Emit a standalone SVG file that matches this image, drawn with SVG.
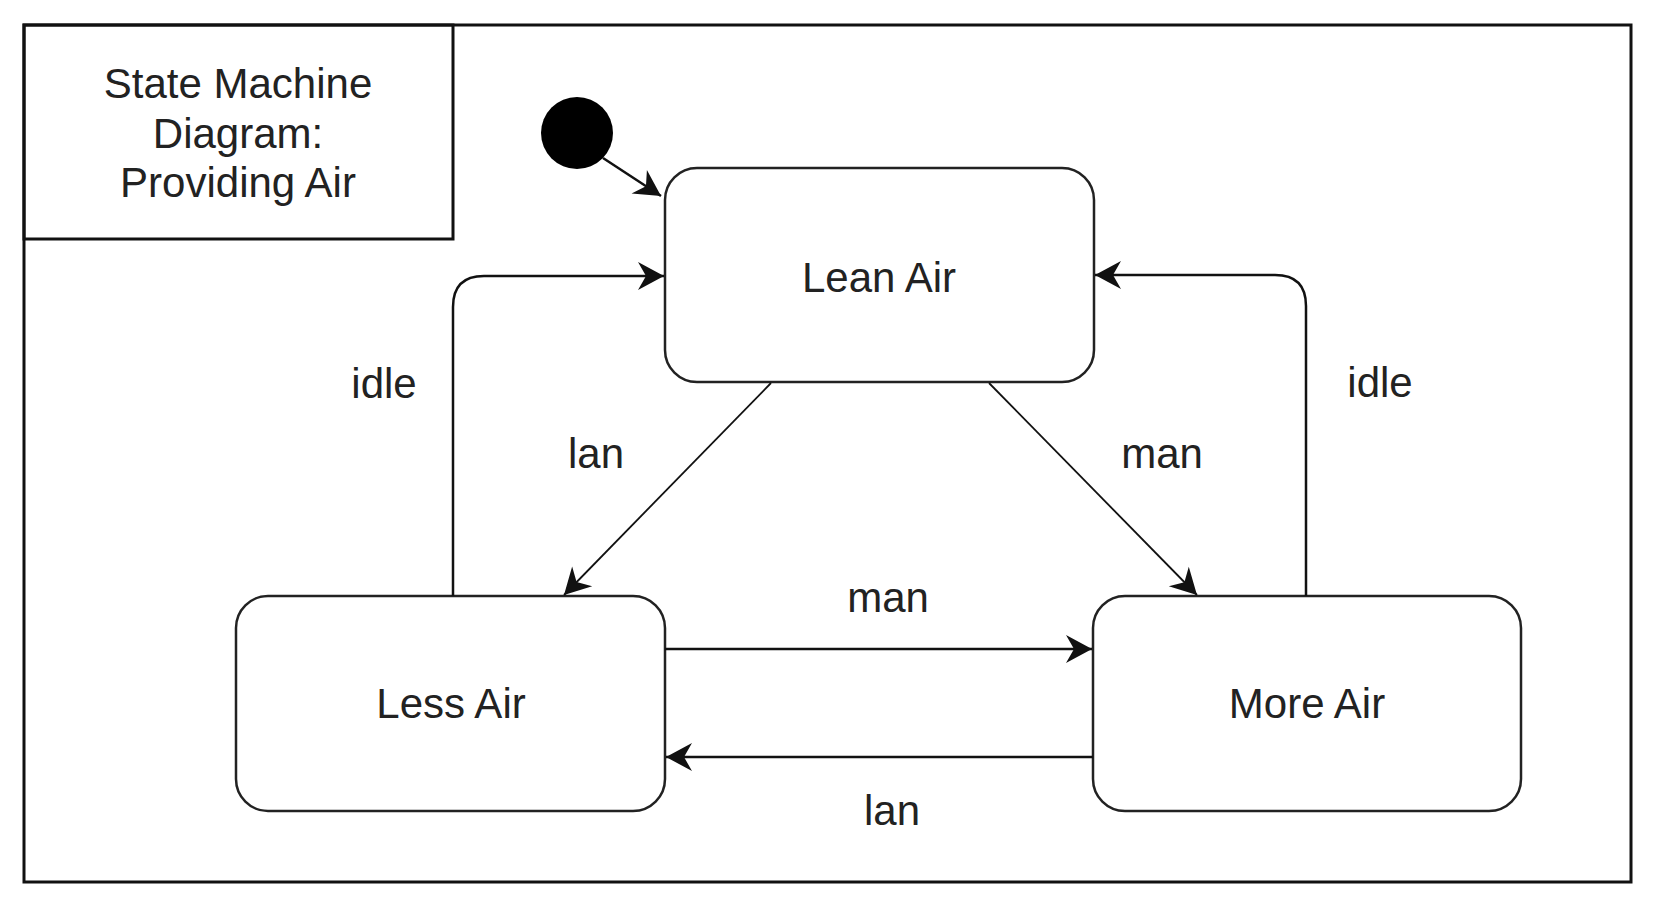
<svg xmlns="http://www.w3.org/2000/svg" width="1664" height="909" viewBox="0 0 1664 909">
<style>
.txt{font-family:"Liberation Sans",Arial,sans-serif;font-size:42px;fill:#222;text-anchor:middle}
.state{fill:#fff;stroke:#222;stroke-width:2.5}
.frame{fill:none;stroke:#111;stroke-width:3}
.edge{fill:none;stroke:#111;stroke-width:2.5}
.thin{fill:none;stroke:#111;stroke-width:1.8}
</style>
<defs>
<marker id="arr" markerUnits="userSpaceOnUse" markerWidth="30" markerHeight="30" refX="26" refY="14" orient="auto" overflow="visible">
<path d="M0,0 L26,14 L0,28 L8,14 Z" fill="#111"/>
</marker>
</defs>
<rect width="1664" height="909" fill="#fff"/>
<g id="frame">
<rect class="frame" x="24" y="25" width="1607" height="857"/>
</g>
<g id="title">
<rect class="frame" x="24" y="25" width="429" height="214"/>
<text class="txt" x="238" y="98">State Machine</text>
<text class="txt" x="238" y="148">Diagram:</text>
<text class="txt" x="238" y="197">Providing Air</text>
</g>
<g id="initial">
<circle cx="577" cy="133" r="36" fill="#000"/>
</g>
<g id="lean-air">
<rect class="state" x="665" y="168" width="429" height="214" rx="32" ry="32"/>
<text class="txt" x="879" y="292">Lean Air</text>
</g>
<g id="less-air">
<rect class="state" x="236" y="596" width="429" height="215" rx="32" ry="32"/>
<text class="txt" x="451" y="718">Less Air</text>
</g>
<g id="more-air">
<rect class="state" x="1093" y="596" width="428" height="215" rx="32" ry="32"/>
<text class="txt" x="1307" y="718">More Air</text>
</g>
<g id="connectors">
<line class="edge" x1="603" y1="158" x2="661" y2="196" marker-end="url(#arr)"/>
<path class="edge" d="M453,596 L453,307 Q453,276 484,276 L664,276" marker-end="url(#arr)"/>
<path class="edge" d="M1306,596 L1306,306 Q1306,275 1275,275 L1095,275" marker-end="url(#arr)"/>
<line class="thin" x1="771" y1="383" x2="564" y2="595" marker-end="url(#arr)"/>
<line class="thin" x1="989" y1="383" x2="1197" y2="595" marker-end="url(#arr)"/>
<line class="edge" x1="665" y1="649" x2="1092" y2="649" marker-end="url(#arr)"/>
<line class="edge" x1="1093" y1="757" x2="666" y2="757" marker-end="url(#arr)"/>
<text class="txt" x="384" y="398">idle</text>
<text class="txt" x="1380" y="397">idle</text>
<text class="txt" x="596" y="468">lan</text>
<text class="txt" x="1162" y="468">man</text>
<text class="txt" x="888" y="612">man</text>
<text class="txt" x="892" y="825">lan</text>
</g>
</svg>
